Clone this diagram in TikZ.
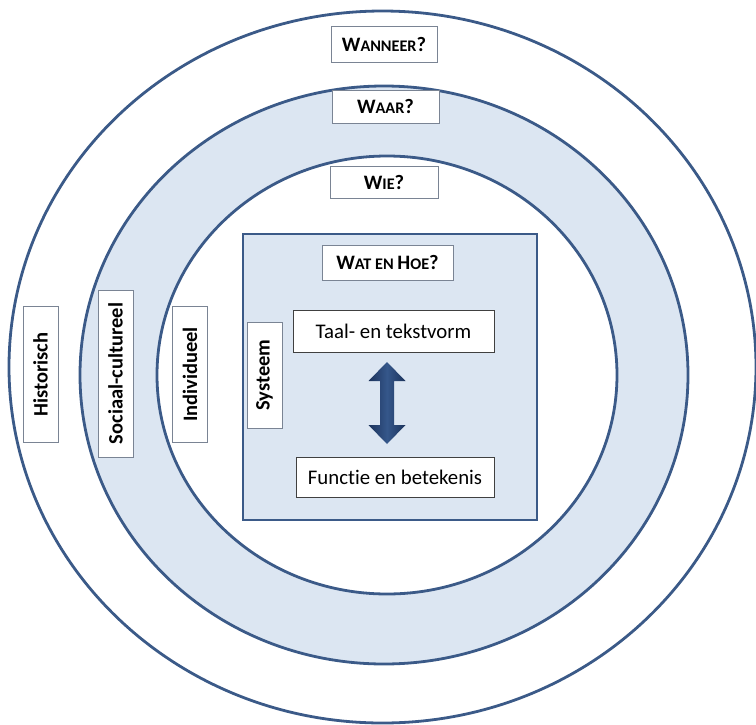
\documentclass[tikz,border=0pt]{standalone}
\usepackage{fontspec}
\setmainfont{Carlito}[Ligatures=NoCommon]
\definecolor{ringline}{HTML}{3B5A88}
\definecolor{bandfill}{HTML}{DCE6F2}
\definecolor{boxline}{HTML}{7A8494}
\definecolor{darkbox}{HTML}{404040}
\definecolor{arrowdark}{HTML}{1C335C}
\definecolor{arrowlight}{HTML}{35578A}
\newcommand\smc[1]{{\fontsize{16.2}{19}\selectfont #1}}
\begin{document}
\begin{tikzpicture}[x=1pt,y=-1pt,
  ring/.style={draw=ringline,line width=2.8pt},
  lbl/.style={draw=boxline,fill=white,line width=0.9pt,inner sep=0pt,
    font=\fontsize{20.5}{24}\selectfont\bfseries},
  plain/.style={draw=darkbox,fill=white,line width=0.9pt,inner sep=0pt,
    font=\fontsize{20.8}{24}\selectfont},
  vlbl/.style={lbl,rotate=90,minimum height=35pt}]
\useasboundingbox (0,0) rectangle (756,724);
% band
\fill[bandfill] (384,375) ellipse [x radius=304pt, y radius=289pt];
\fill[white] (387,375) ellipse [x radius=230pt, y radius=219pt];
% ring lines
\draw[ring] (382.5,367) ellipse [x radius=373.5pt, y radius=356pt];
\draw[ring] (384,375) ellipse [x radius=304pt, y radius=289pt];
\draw[ring] (387,375) ellipse [x radius=230pt, y radius=219pt];
% system square
\node[draw=ringline,fill=bandfill,line width=2.4pt,inner sep=0pt,
  minimum width=294pt,minimum height=286pt] (square) at (390,377) {};
% question labels
\node[lbl,minimum width=106pt,minimum height=36pt] (wanneer) at (384,44) {W\smc{ANNEER}?};
\node[lbl,minimum width=107pt,minimum height=33pt] (waar) at (385.5,106.5) {W\smc{AAR}?};
\node[lbl,minimum width=108pt,minimum height=32pt] (wie) at (384,182) {W\smc{IE}?};
\node[lbl,minimum width=131pt,minimum height=35pt] (wathoe) at (387.5,262.5) {W\smc{AT EN }H\smc{OE}?};
% vertical labels
\node[vlbl,minimum width=136pt] (hist) at (40.5,374.5) {Historisch};
\node[vlbl,minimum width=167pt] (soc) at (115.5,373.5) {Sociaal-cultureel};
\node[vlbl,minimum width=136pt] (ind) at (190,374.5) {Individueel};
\node[vlbl,minimum width=106pt] (sys) at (264.5,375) {Systeem};
% inner boxes
\node[plain,minimum width=201pt,minimum height=42pt] (taal) at (393.5,331) {Taal- en tekstvorm};
\node[plain,minimum width=198pt,minimum height=40pt] (functie) at (395,477) {Functie en betekenis};
% double arrow
\coordinate (at) at (387,362);
\coordinate (ab) at (387,444);
\shade[left color=arrowdark,right color=arrowdark,middle color=arrowlight]
  (at) -- ++(18.5,19) -- ++(-11.5,0) -- ++(0,44) -- ++(11.5,0) -- (ab)
  -- ++(-18.5,-19) -- ++(11.5,0) -- ++(0,-44) -- ++(-11.5,0) -- cycle;
\end{tikzpicture}
\end{document}
